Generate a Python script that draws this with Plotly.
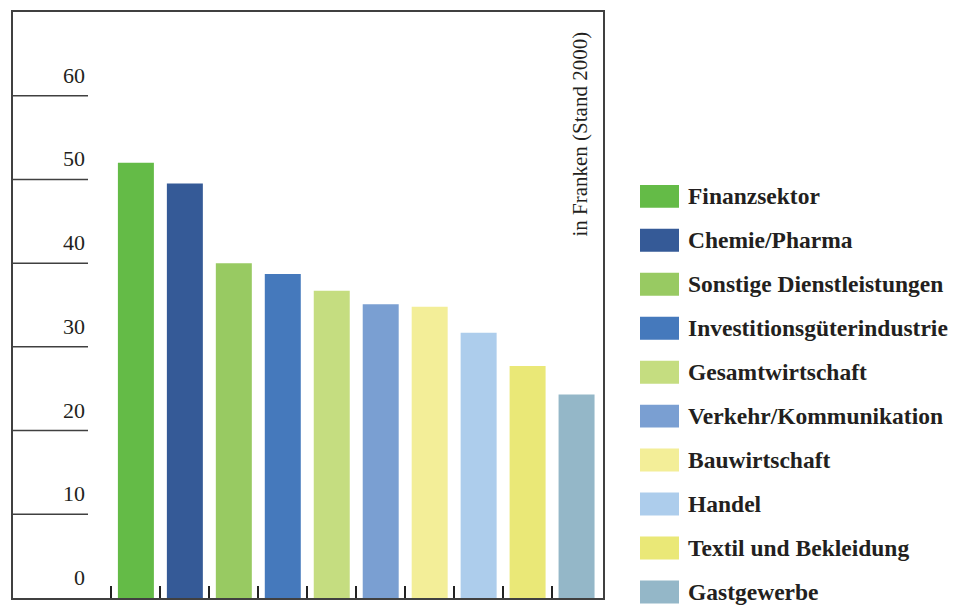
import plotly.graph_objects as go

categories = ["Finanzsektor", "Chemie/Pharma", "Sonstige Dienstleistungen",
              "Investitionsgüterindustrie", "Gesamtwirtschaft",
              "Verkehr/Kommunikation", "Bauwirtschaft", "Handel",
              "Textil und Bekleidung", "Gastgewerbe"]
values = [52.0, 49.5, 40.0, 38.7, 36.7, 35.1, 34.8, 31.7, 27.7, 24.3]
colors = ["#64BB47", "#355A97", "#98CA62", "#4579BC", "#C5DD80",
          "#7A9FD2", "#F3EE98", "#ADCDEC", "#EAE877", "#94B7C8"]
y_ticks = [0, 10, 20, 30, 40, 50, 60]
y_title = "in Franken (Stand 2000)"

# page body has an 8px margin; work in reference-pixel coordinates
OFF = 8
W, H = 961 - OFF, 606 - OFF
L, R, T, B = 13, 603, 10, 598  # reference pixel frame
TXT = "#231f20"
LINE = "#404040"


def px(xp):
    return (xp - L) / (R - L)


def py(yp):
    return (B - yp) / (B - T)


fig = go.Figure(go.Bar(
    x=list(range(len(categories))), y=values,
    marker=dict(color=colors, line=dict(width=0)),
    width=0.735, showlegend=False,
))

shapes = []
annotations = []
for v in y_ticks:
    if v > 0:
        shapes.append(dict(type="line", xref="paper", yref="y",
                           x0=0, x1=px(88), y0=v, y1=v,
                           line=dict(color=LINE, width=1.5)))
    annotations.append(dict(x=px(87), y=v, xref="paper", yref="y",
                            text=str(v), showarrow=False,
                            xanchor="right", yanchor="bottom", yshift=6,
                            font=dict(family="Liberation Serif", size=22, color=TXT)))

annotations.append(dict(x=px(580), y=py(133), xref="paper", yref="paper",
                        text=y_title, showarrow=False, textangle=-90,
                        xanchor="center", yanchor="middle",
                        font=dict(family="Liberation Serif", size=21, color=TXT)))

for i, (c, col) in enumerate(zip(categories, colors)):
    yc = 195 + 44.1 * i
    shapes.append(dict(type="rect", xref="paper", yref="paper",
                       x0=px(640), x1=px(679), y0=py(yc - 11.5), y1=py(yc + 11.5),
                       fillcolor=col, line=dict(width=0)))
    annotations.append(dict(x=px(686), y=py(yc), xref="paper", yref="paper",
                            text="<b>" + c + "</b>", showarrow=False,
                            xanchor="left", yanchor="middle",
                            font=dict(family="Liberation Serif", size=23.5, color=TXT)))

fig.update_layout(
    width=W, height=H,
    margin=dict(l=L - OFF, r=W - (R - OFF), t=T - OFF, b=H - (B - OFF), pad=0),
    paper_bgcolor="white", plot_bgcolor="white",
    shapes=shapes, annotations=annotations,
    xaxis=dict(range=[-2.51, 9.54], tickvals=[i - 0.5 for i in range(len(categories))],
               showticklabels=False, ticks="inside", ticklen=12, tickwidth=1.5,
               tickcolor="#222", showgrid=False, zeroline=False,
               showline=True, linecolor=LINE, linewidth=2, mirror=True),
    yaxis=dict(range=[0, 70], showticklabels=False, showgrid=False, zeroline=False,
               ticks="", showline=True, linecolor=LINE, linewidth=2, mirror=True),
)

fig.write_html("out.html")
